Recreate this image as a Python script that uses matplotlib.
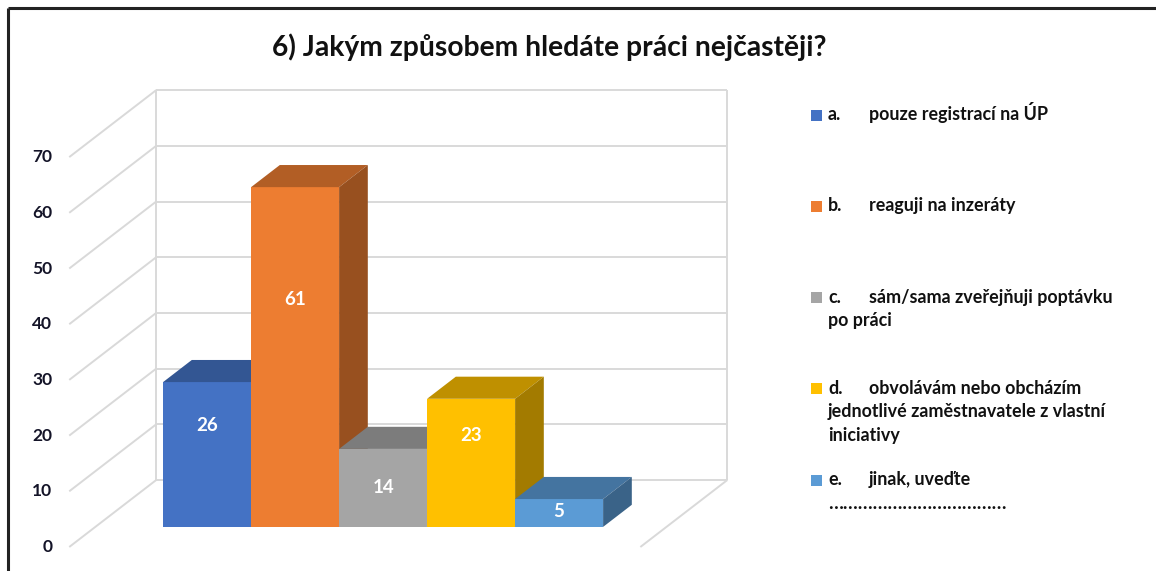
import matplotlib
matplotlib.use('Agg')
import matplotlib.pyplot as plt
from matplotlib.patches import Polygon, Rectangle

# ---------------- data ----------------
title = '6) Jakým způsobem hledáte práci nejčastěji?'
legend_labels = [
    'a.\tpouze registrací na ÚP',
    'b.\treaguji na inzeráty',
    'c.\tsám/sama zveřejňuji poptávku\npo práci',
    'd.\tobvolávám nebo obcházím\njednotlivé zaměstnavatele z vlastní\niniciativy',
    'e.\tjinak, uveďte\n………………………………',
]
values = [26, 61, 14, 23, 5]
y_ticks = [0, 10, 20, 30, 40, 50, 60, 70]
colors = ['#4472C4', '#ED7D31', '#A5A5A5', '#FFC000', '#5B9BD5']
label_frac = [0.70, 0.67, 0.50, 0.71, 0.54]   # data-label height (fraction of bar)

FONT = ['Lato', 'DejaVu Sans']
plt.rcParams['font.family'] = FONT

W, H = 1156, 571
fig = plt.figure(figsize=(W / 100, H / 100), dpi=100)

# --------------- 3D-like chart axes ---------------
PX_CAT, PX_VAL = 88.0, 5.57
X0, Y0 = 137.0, 24.0
DX_PX, DY_PX = 87.0, 67.0
DX, DY = DX_PX / PX_CAT, DY_PX / PX_VAL

ax = fig.add_axes([0, 0, 1, 1])
ax.set_xlim(-X0 / PX_CAT, (W - X0) / PX_CAT)
ax.set_ylim(-Y0 / PX_VAL, (H - Y0) / PX_VAL)
ax.axis('off')


def P(c, v, z):
    return (c + z * DX, v + z * DY)


c_left, c_right = -0.77, len(values) + 0.72
vmax = y_ticks[-1]
grid_kw = dict(color='#D9D9D9', lw=1.4, zorder=1, solid_capstyle='butt')

for t in y_ticks:
    a, b = P(c_left, t, 0), P(c_left, t, 1)
    ax.plot([a[0], b[0]], [a[1], b[1]], **grid_kw)
    a, b = P(c_left, t, 1), P(c_right, t, 1)
    ax.plot([a[0], b[0]], [a[1], b[1]], **grid_kw)
for c in (c_left, c_right):
    a, b = P(c, 0, 1), P(c, vmax, 1)
    ax.plot([a[0], b[0]], [a[1], b[1]], **grid_kw)
a, b = P(c_right, 0, 0), P(c_right, 0, 1)
ax.plot([a[0], b[0]], [a[1], b[1]], **grid_kw)

# tick labels
for t in y_ticks:
    x, y = P(c_left, t, 0)
    ax.text(x - 17 / PX_CAT, y, str(t), ha='right', va='center',
            fontsize=12.5, fontweight='bold', color='#141428', zorder=5)


def shade(col, f):
    r, g, b = matplotlib.colors.to_rgb(col)
    return (r * f, g * f, b * f)


z0, z1 = 0.30, 0.63
for i, (v, col) in enumerate(zip(values, colors)):
    c0, c1 = i, i + 1
    front = [P(c0, 0, z0), P(c1, 0, z0), P(c1, v, z0), P(c0, v, z0)]
    top = [P(c0, v, z0), P(c1, v, z0), P(c1, v, z1), P(c0, v, z1)]
    side = [P(c1, 0, z0), P(c1, 0, z1), P(c1, v, z1), P(c1, v, z0)]
    zo = 10 + i * 3
    ax.add_patch(Polygon(front, closed=True, facecolor=col, edgecolor='none', zorder=zo))
    ax.add_patch(Polygon(top, closed=True, facecolor=shade(col, 0.75), edgecolor='none', zorder=zo + 1))
    ax.add_patch(Polygon(side, closed=True, facecolor=shade(col, 0.64), edgecolor='none', zorder=zo + 2))
    lx, ly = P(i + 0.5, v * label_frac[i], z0)
    ax.text(lx, ly, str(v), ha='center', va='center', color='white',
            fontsize=13.5, fontweight='bold', zorder=40)

# --------------- overlay axes in pixel coords ---------------
ov = fig.add_axes([0, 0, 1, 1], facecolor='none')
ov.set_xlim(0, W)
ov.set_ylim(H, 0)
ov.axis('off')

# frame
ov.plot([8, W], [8, 8], color='#222222', lw=2.2, solid_capstyle='butt')
ov.plot([8, 8], [8, H], color='#222222', lw=2.2, solid_capstyle='butt')

fig.canvas.draw()
renderer = fig.canvas.get_renderer()


def fit(txt, target_px):
    w = txt.get_window_extent(renderer).width
    txt.set_fontsize(txt.get_fontsize() * target_px / w)


tt = ov.text(549, 47, title, ha='center', va='center', fontsize=18,
             fontweight='bold', color='#111111')
fit(tt, 555)

# legend
leg_x_sq, leg_x_txt, leg_x_tab = 811, 828, 869
leg_y0, leg_dy, line_dy = 115, 91.3, 23.6
base_off = 5
leg_texts = []
dots_text = None
for i, (lab, col) in enumerate(zip(legend_labels, colors)):
    y = leg_y0 + i * leg_dy
    ov.add_patch(Rectangle((leg_x_sq, y - 5.5), 11, 11, facecolor=col, edgecolor='none'))
    prefix, rest = lab.split('\t')
    lines = rest.split('\n')
    leg_texts.append(ov.text(leg_x_txt, y + base_off, prefix, ha='left', va='baseline',
                             fontsize=11, fontweight='bold', color='#111111'))
    t0 = ov.text(leg_x_tab, y + base_off, lines[0], ha='left', va='baseline', fontsize=11,
                 fontweight='bold', color='#111111')
    leg_texts.append(t0)
    if i == 0:
        fit(t0, 178)
        fs = t0.get_fontsize()
    for j, ln in enumerate(lines[1:], start=1):
        tj = ov.text(leg_x_txt, y + base_off + j * line_dy, ln, ha='left', va='baseline',
                     fontsize=11, fontweight='bold', color='#111111')
        leg_texts.append(tj)
        if set(ln) == {'…'}:
            dots_text = tj

for t in leg_texts:
    t.set_fontsize(fs)
if dots_text is not None:
    fit(dots_text, 177)

fig.savefig('out.png', dpi=100)
